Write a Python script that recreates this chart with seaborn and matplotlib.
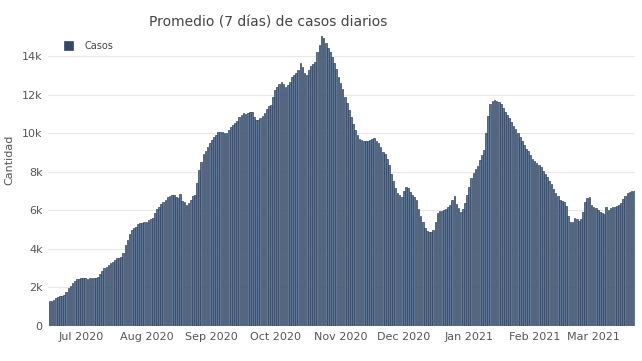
import numpy as np
import pandas as pd
import matplotlib
matplotlib.use("Agg")
import matplotlib.pyplot as plt
import matplotlib.dates as mdates
from matplotlib.ticker import FuncFormatter
import seaborn as sns

# 7-day average of daily cases, one value per day from 2020-06-16
start_date = "2020-06-16"
casos = [
    1300, 1300, 1350, 1430, 1500, 1550, 1580, 1620, 1780, 1950,
    2100, 2250, 2350, 2420, 2450, 2470, 2480, 2470, 2460, 2470,
    2480, 2480, 2500, 2560, 2700, 2850, 2990, 3080, 3160, 3250,
    3300, 3420, 3510, 3550, 3600, 3800, 4200, 4450, 4750, 4980,
    5060, 5150, 5290, 5330, 5360, 5380, 5420, 5500, 5560, 5620,
    5840, 6050, 6200, 6350, 6450, 6550, 6700, 6750, 6800, 6820,
    6700, 6650, 6840, 6500, 6420, 6300, 6400, 6550, 6750, 6800,
    7400, 8100, 8500, 8950, 9100, 9300, 9500, 9650, 9800, 9900,
    10080, 10080, 10050, 10000, 10030, 10150, 10340, 10450, 10550, 10650,
    10850, 10950, 11060, 11000, 11030, 11080, 11110, 10820, 10700, 10680,
    10770, 10900, 11050, 11250, 11400, 11460, 11900, 12270, 12410, 12550,
    12670, 12550, 12410, 12500, 12670, 12930, 13050, 13150, 13300, 13650,
    13420, 13150, 13000, 13300, 13500, 13600, 13700, 14200, 14600, 15040,
    14920, 14660, 14450, 14200, 13960, 13650, 13350, 12900, 12600, 12320,
    11900, 11550, 11200, 10850, 10500, 10150, 9900, 9700, 9640, 9600,
    9600, 9620, 9650, 9700, 9730, 9600, 9480, 9300, 9050, 8900,
    8650, 8350, 7900, 7500, 7150, 6900, 6790, 6700, 7000, 7200,
    7150, 6960, 6800, 6700, 6530, 6050, 5700, 5400, 5060, 4950,
    4890, 4890, 5000, 5400, 5850, 5980, 5980, 6000, 6050, 6150,
    6300, 6530, 6740, 6350, 6100, 5930, 6050, 6400, 6800, 7200,
    7700, 7950, 8150, 8300, 8600, 8850, 9150, 10000, 10900, 11500,
    11680, 11720, 11680, 11600, 11500, 11300, 11100, 10950, 10800, 10600,
    10400, 10200, 10020, 9800, 9600, 9380, 9200, 9100, 8850, 8650,
    8550, 8450, 8350, 8230, 8050, 7900, 7750, 7500, 7350, 7100,
    6900, 6750, 6550, 6500, 6450, 6250, 5700, 5420, 5420, 5580,
    5530, 5460, 5550, 5900, 6450, 6620, 6700, 6300, 6190, 6100,
    6000, 5900, 5850, 5810, 6150, 6010, 6100, 6150, 6190, 6220,
    6300, 6400, 6600, 6750, 6880, 6950, 6990, 7020,
]

fechas = pd.date_range(start_date, periods=len(casos), freq="D")
df = pd.DataFrame({"fecha": mdates.date2num(fechas), "casos": casos})

sns.set_style("white")
plt.rcParams["font.family"] = ["DejaVu Sans"]

fig = plt.figure(figsize=(6.42, 3.61), dpi=100)
ax = fig.add_axes([0.075, 0.097, 0.914, 0.806])

sns.barplot(data=df, x="fecha", y="casos", native_scale=True, width=0.8,
            color="#617796", edgecolor="#2f4260", linewidth=0.5,
            saturation=1, errorbar=None, ax=ax, label="Casos")

ax.set_xlim(df["fecha"].iloc[0] - 0.6, df["fecha"].iloc[-1] + 0.6)
ax.set_ylim(0, 15100)
ax.set_yticks(range(0, 15000, 2000))
ax.yaxis.set_major_formatter(FuncFormatter(lambda v, p: "0" if v == 0 else f"{int(v/1000)}k"))
ax.xaxis.set_major_locator(mdates.MonthLocator())
ax.xaxis.set_major_formatter(mdates.DateFormatter("%b %Y"))
ax.tick_params(axis="both", length=0, labelsize=8, labelcolor="#555555", pad=4)
ax.grid(axis="y", color="#e8e8e8", linewidth=0.8)
ax.set_axisbelow(True)
for s in ax.spines.values():
    s.set_visible(False)

ax.set_xlabel("")
ax.set_ylabel("Cantidad", fontsize=8, color="#555555")
ax.yaxis.set_label_coords(-0.058, 0.57)
fig.text(0.418, 0.938, "Promedio (7 días) de casos diarios", ha="center", va="center",
         fontsize=10, color="#444444")

leg = ax.legend(loc="upper left", bbox_to_anchor=(0.012, 1.01), frameon=False,
                fontsize=7, handlelength=0.9, handleheight=0.9, handletextpad=1.2)
for h in leg.legend_handles:
    h.set_facecolor("#34486b")
    h.set_edgecolor("#34486b")
for t in leg.get_texts():
    t.set_color("#444444")

fig.savefig("out.png", dpi=100)
